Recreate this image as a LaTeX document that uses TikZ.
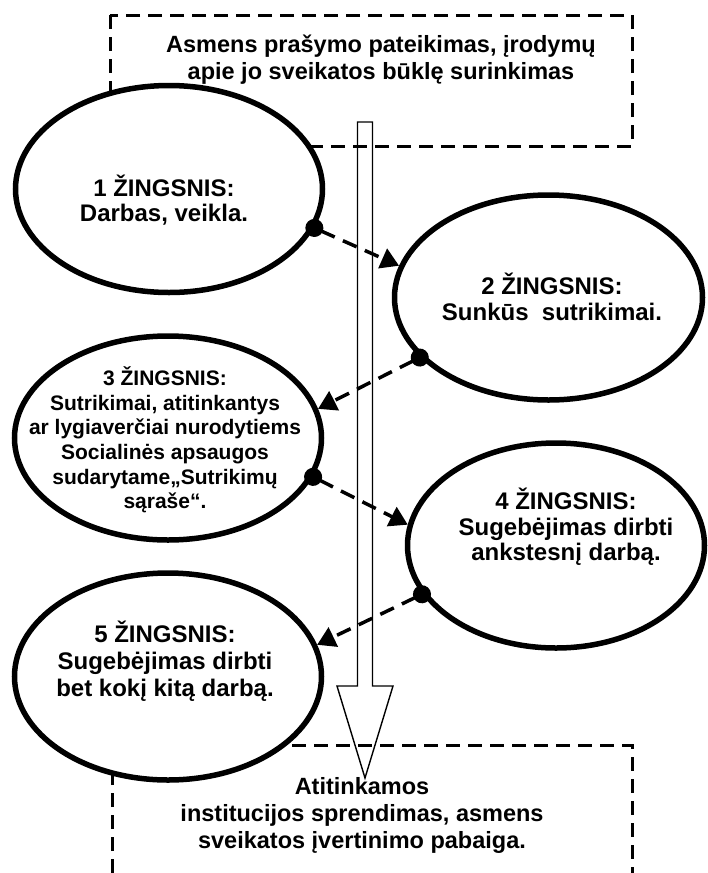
\documentclass[tikz,border=0pt]{standalone}
\usepackage{fontspec}
\setmainfont{Liberation Sans}
\usetikzlibrary{arrows.meta,shapes.geometric}

\tikzset{
  stepoval/.style={ellipse, draw, fill=white, line width=5.5pt, inner sep=0pt},
  steptext/.style={align=center, inner sep=0pt, font=\bfseries\fontsize{24}{25.5}\selectfont},
  boxtext/.style={align=center, inner sep=0pt, font=\bfseries\fontsize{23.5}{27}\selectfont},
  boxline/.style={line width=3pt, dash pattern=on 14pt off 8pt},
  link/.style={line width=3.5pt, dash pattern=on 15pt off 9pt,
    arrows={Circle[length=18pt]-Triangle[length=18pt,width=21pt]}, shorten <=-9pt},
}

\begin{document}
\begin{tikzpicture}[x=1pt,y=1pt,yscale=-1,xscale=1]
\useasboundingbox (0,0) rectangle (708,873);

%Shape: Rectangle
\draw[boxline] (110,15) rectangle (632,146);
%Straight Lines
\draw[boxline] (112,873) -- (112,745) -- (632,745) -- (632,873);

%Shape: Big Arrow
\draw[line width=1.4pt] (357.5,122) -- (372.5,122) -- (372.5,686) -- (393,686) -- (365,778) -- (337,686) -- (357.5,686) -- cycle;

%Shape: Ellipse
\node[stepoval, minimum width=307, minimum height=207] (e1) at (169,189) {};
\node[stepoval, minimum width=308, minimum height=205] (e2) at (548.5,297.5) {};
\node[stepoval, minimum width=307, minimum height=204] (e3) at (168,438) {};
\node[stepoval, minimum width=297, minimum height=205] (e4) at (556,545.5) {};
\node[stepoval, minimum width=307, minimum height=207] (e5) at (168,676.5) {};

% Text Node
\node[boxtext] (ttop) at (381,60) {Asmens prašymo pateikimas, įrodymų\\apie jo sveikatos būklę surinkimas};
% Text Node
\node[boxtext] (tbot) at (362,815) {Atitinkamos\\institucijos sprendimas, asmens\\sveikatos įvertinimo pabaiga.};
% Text Node
\node[steptext] (t1) at (164,200) {1 ŽINGSNIS:\\Darbas, veikla.};
% Text Node
\node[steptext] (t2) at (552,297) {2 ŽINGSNIS:\\Sunkūs\ \ sutrikimai.};
% Text Node
\node[steptext, font=\bfseries\fontsize{21}{24.6}\selectfont] (t3) at (165,440) {3 ŽINGSNIS:\\Sutrikimai, atitinkantys\\ar lygiaverčiai nurodytiems\\Socialinės apsaugos\\sudarytame„Sutrikimų\\sąraše“.};
% Text Node
\node[steptext] (t4) at (566,527) {4 ŽINGSNIS:\\Sugebėjimas dirbti\\ankstesnį darbą.};
% Text Node
\node[steptext, font=\bfseries\fontsize{24}{27}\selectfont] (t5) at (165,661) {5 ŽINGSNIS:\\Sugebėjimas dirbti\\bet kokį kitą darbą.};

%Straight Lines
\draw[link] (e1.-15) -- (e2.168);
\draw[link] (e2.205) -- (e3.11);
\draw[link] (e3.-15) -- (e4.172);
\draw[link] (e4.200) -- (e5.12);

\end{tikzpicture}
\end{document}
